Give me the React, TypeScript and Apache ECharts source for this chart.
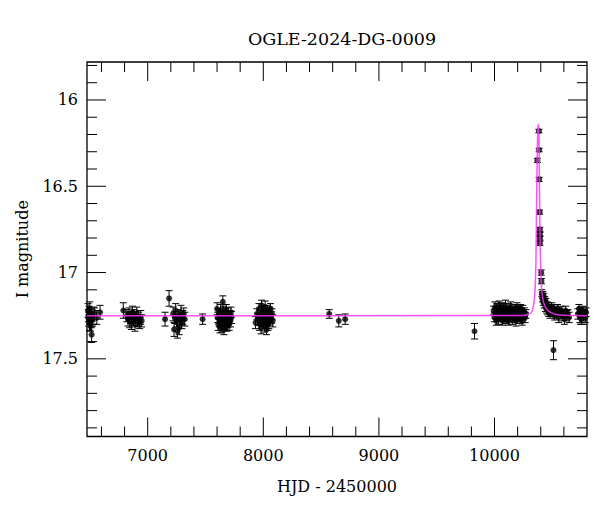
import React, { useEffect, useRef } from "react";
import * as echarts from "echarts";

const TITLE = "OGLE-2024-DG-0009";
const X_NAME = "HJD - 2450000";
const Y_NAME = "I magnitude";
const X_MIN = 6475;
const X_MAX = 10800;
const Y_MIN = 15.78;
const Y_MAX = 17.95;
const X_MAJOR = [7000, 8000, 9000, 10000];
const X_MINOR = [6600, 6800, 7200, 7400, 7600, 7800, 8200, 8400, 8600, 8800, 9200, 9400, 9600, 9800, 10200, 10400, 10600];
const Y_MAJOR = [16, 16.5, 17, 17.5];
const Y_MINOR = [15.8, 15.9, 16.1, 16.2, 16.3, 16.4, 16.6, 16.7, 16.8, 16.9, 17.1, 17.2, 17.3, 17.4, 17.6, 17.7, 17.8, 17.9];

// [HJD-2450000, I mag, error]
const season1 = [
  [6484, 17.22, 0.04], [6487, 17.25, 0.035], [6490, 17.27, 0.04], [6493, 17.23, 0.035], [6496, 17.29, 0.045],
  [6499, 17.21, 0.04], [6502, 17.26, 0.035], [6505, 17.3, 0.04], [6508, 17.24, 0.035], [6511, 17.28, 0.04],
  [6515, 17.36, 0.045], [6518, 17.25, 0.035], [6522, 17.27, 0.04], [6540, 17.24, 0.035], [6560, 17.26, 0.04],
  [6588, 17.23, 0.04],
];
const season2 = [
  [6789, 17.22, 0.045], [6820, 17.25, 0.035], [6830, 17.27, 0.04], [6838, 17.24, 0.035], [6845, 17.28, 0.04],
  [6852, 17.26, 0.035], [6860, 17.29, 0.04], [6868, 17.23, 0.035], [6875, 17.27, 0.04], [6882, 17.25, 0.035],
  [6890, 17.3, 0.04], [6898, 17.26, 0.035], [6905, 17.24, 0.04], [6912, 17.28, 0.035], [6920, 17.27, 0.04],
  [6930, 17.29, 0.035], [6940, 17.26, 0.04], [6948, 17.28, 0.035],
];
const season3 = [
  [7150, 17.27, 0.04], [7185, 17.15, 0.045], [7220, 17.24, 0.04], [7228, 17.33, 0.04], [7235, 17.26, 0.035],
  [7242, 17.22, 0.04], [7250, 17.28, 0.035], [7258, 17.34, 0.04], [7265, 17.25, 0.035], [7272, 17.32, 0.04],
  [7280, 17.27, 0.035], [7288, 17.23, 0.04], [7295, 17.29, 0.035], [7303, 17.26, 0.04], [7312, 17.24, 0.035],
  [7320, 17.27, 0.04], [7475, 17.27, 0.03],
];
const season4 = [
  [7600, 17.21, 0.035], [7605, 17.26, 0.03], [7610, 17.3, 0.035], [7615, 17.24, 0.03], [7620, 17.28, 0.035],
  [7625, 17.32, 0.03], [7630, 17.22, 0.035], [7635, 17.27, 0.03], [7640, 17.31, 0.035], [7645, 17.25, 0.03],
  [7650, 17.17, 0.035], [7652, 17.29, 0.03], [7656, 17.23, 0.035], [7660, 17.33, 0.03], [7664, 17.27, 0.035],
  [7668, 17.3, 0.03], [7672, 17.24, 0.035], [7676, 17.28, 0.03], [7680, 17.22, 0.035], [7684, 17.31, 0.03],
  [7688, 17.26, 0.035], [7692, 17.29, 0.03], [7696, 17.24, 0.035], [7700, 17.27, 0.03], [7705, 17.3, 0.035],
  [7710, 17.25, 0.03], [7715, 17.28, 0.035], [7720, 17.23, 0.03], [7725, 17.26, 0.035],
];
const season5 = [
  [7933, 17.29, 0.035], [7945, 17.24, 0.03], [7955, 17.27, 0.035], [7962, 17.21, 0.03], [7968, 17.3, 0.035],
  [7974, 17.25, 0.03], [7980, 17.32, 0.035], [7985, 17.19, 0.03], [7990, 17.27, 0.035], [7995, 17.23, 0.03],
  [8000, 17.29, 0.035], [8004, 17.22, 0.03], [8008, 17.31, 0.035], [8012, 17.26, 0.03], [8016, 17.2, 0.035],
  [8020, 17.28, 0.03], [8024, 17.24, 0.035], [8028, 17.33, 0.03], [8032, 17.27, 0.035], [8036, 17.22, 0.03],
  [8040, 17.3, 0.035], [8044, 17.25, 0.03], [8048, 17.29, 0.035], [8052, 17.23, 0.03], [8056, 17.27, 0.035],
  [8062, 17.21, 0.03], [8068, 17.26, 0.035], [8075, 17.24, 0.03], [8082, 17.28, 0.035],
];
const season6 = [
  [8570, 17.24, 0.025], [8653, 17.28, 0.035], [8708, 17.27, 0.03], [9827, 17.34, 0.045],
];
const season8 = [
  [9992, 17.22, 0.025], [9998, 17.26, 0.025], [10004, 17.2, 0.03], [10010, 17.24, 0.025], [10015, 17.28, 0.025],
  [10020, 17.21, 0.03], [10025, 17.25, 0.025], [10030, 17.23, 0.025], [10035, 17.27, 0.03], [10040, 17.19, 0.025],
  [10045, 17.24, 0.025], [10050, 17.22, 0.03], [10055, 17.26, 0.025], [10060, 17.2, 0.025], [10065, 17.25, 0.03],
  [10070, 17.28, 0.025], [10075, 17.23, 0.025], [10080, 17.21, 0.03], [10085, 17.26, 0.025], [10090, 17.24, 0.025],
  [10095, 17.19, 0.03], [10100, 17.27, 0.025], [10105, 17.22, 0.025], [10110, 17.25, 0.03], [10115, 17.23, 0.025],
  [10120, 17.28, 0.025], [10125, 17.21, 0.03], [10130, 17.24, 0.025], [10135, 17.26, 0.025], [10140, 17.2, 0.03],
  [10145, 17.25, 0.025], [10150, 17.23, 0.025], [10155, 17.27, 0.03], [10160, 17.22, 0.025], [10165, 17.24, 0.025],
  [10170, 17.26, 0.03], [10175, 17.21, 0.025], [10180, 17.25, 0.025], [10185, 17.28, 0.03], [10190, 17.23, 0.025],
  [10195, 17.2, 0.025], [10200, 17.24, 0.03], [10205, 17.26, 0.025], [10210, 17.22, 0.025], [10215, 17.25, 0.03],
  [10220, 17.27, 0.025], [10225, 17.21, 0.025], [10230, 17.24, 0.03], [10235, 17.23, 0.025], [10240, 17.28, 0.025],
  [10245, 17.22, 0.03], [10250, 17.25, 0.025], [10258, 17.23, 0.025], [10265, 17.26, 0.03], [10272, 17.24, 0.025],
];
const season9 = [
  [10371, 16.35, 0.012], [10384, 16.18, 0.01], [10386, 16.29, 0.01], [10386, 16.46, 0.012], [10390, 16.65, 0.012],
  [10392, 16.75, 0.012], [10392, 16.78, 0.012], [10393, 16.8, 0.012], [10393, 16.83, 0.012], [10404, 17.0, 0.015],
  [10406, 17.05, 0.015], [10410, 17.12, 0.02], [10414, 17.15, 0.02], [10418, 17.13, 0.02], [10422, 17.17, 0.02],
  [10426, 17.14, 0.02], [10430, 17.18, 0.025], [10435, 17.16, 0.02], [10440, 17.2, 0.025], [10445, 17.17, 0.02],
  [10450, 17.21, 0.025], [10455, 17.19, 0.02], [10460, 17.22, 0.025], [10465, 17.2, 0.025], [10470, 17.23, 0.025],
  [10475, 17.21, 0.025], [10480, 17.24, 0.025], [10488, 17.22, 0.025], [10495, 17.2, 0.025], [10505, 17.23, 0.025],
  [10510, 17.45, 0.055], [10515, 17.21, 0.025], [10520, 17.25, 0.025], [10528, 17.22, 0.025], [10535, 17.24, 0.025],
  [10545, 17.21, 0.025], [10555, 17.26, 0.03], [10565, 17.23, 0.025], [10575, 17.22, 0.025], [10585, 17.25, 0.03],
  [10595, 17.24, 0.025], [10605, 17.27, 0.03], [10615, 17.22, 0.025], [10625, 17.25, 0.03], [10635, 17.24, 0.025],
  [10645, 17.26, 0.03],
];
const season10 = [
  [10722, 17.24, 0.03], [10730, 17.21, 0.025], [10738, 17.26, 0.03], [10745, 17.23, 0.025], [10752, 17.27, 0.03],
  [10760, 17.22, 0.025], [10768, 17.25, 0.03], [10776, 17.24, 0.025], [10785, 17.26, 0.03], [10792, 17.23, 0.025],
];

const modelT = [6475, 10250, 10280, 10315, 10335, 10345, 10352, 10358, 10364, 10369, 10374, 10378, 10382, 10386,
  10390, 10395, 10401, 10408, 10420, 10440, 10470, 10520, 10600, 10800];
const modelMag = [17.25, 17.249, 17.245, 17.235, 17.2, 17.15, 17.08, 16.95, 16.6, 16.35, 16.18, 16.14, 16.16, 16.3,
  16.58, 16.85, 17.0, 17.1, 17.16, 17.2, 17.225, 17.24, 17.248, 17.25];

const FONT = "DejaVu Serif";

export default function App() {
  const ref = useRef<HTMLDivElement>(null);
  useEffect(() => {
    if (!ref.current) return;
    const chart = echarts.init(ref.current, null, { renderer: "svg" });
    const points = [...season1, ...season2, ...season3, ...season4, ...season5, ...season6, ...season8, ...season9, ...season10];
    const ticks: number[][] = [];
    X_MAJOR.forEach((v) => ticks.push([v, 0, 1]));
    X_MINOR.forEach((v) => ticks.push([v, 0, 0]));
    Y_MAJOR.forEach((v) => ticks.push([v, 1, 1]));
    Y_MINOR.forEach((v) => ticks.push([v, 1, 0]));

    chart.setOption({
      animation: false,
      backgroundColor: "#fff",
      title: {
        text: TITLE,
        left: 337,
        top: 25,
        textAlign: "center",
        textStyle: { fontFamily: FONT, fontSize: 17.5, fontWeight: "normal", color: "#000" },
      },
      grid: { left: 87, top: 62, width: 500, height: 374.5, show: true, borderColor: "#000", borderWidth: 1.3, backgroundColor: "transparent" },
      xAxis: {
        type: "value",
        min: X_MIN,
        max: X_MAX,
        name: X_NAME,
        nameLocation: "middle",
        nameGap: 42,
        nameTextStyle: { fontFamily: FONT, fontSize: 16, color: "#000" },
        axisLine: { show: false },
        axisTick: { show: false },
        splitLine: { show: false },
        axisLabel: {
          customValues: X_MAJOR,
          formatter: (v: number) => String(v),
          fontFamily: FONT,
          fontSize: 16,
          color: "#000",
          margin: 11,
        },
      },
      yAxis: {
        type: "value",
        inverse: true,
        min: Y_MIN,
        max: Y_MAX,
        name: Y_NAME,
        nameLocation: "middle",
        nameGap: 57,
        nameTextStyle: { fontFamily: FONT, fontSize: 16, color: "#000" },
        axisLine: { show: false },
        axisTick: { show: false },
        splitLine: { show: false },
        axisLabel: {
          customValues: Y_MAJOR,
          formatter: (v: number) => String(v),
          fontFamily: FONT,
          fontSize: 16,
          color: "#000",
          margin: 9,
        },
      },
      series: [
        {
          type: "custom",
          name: "ticks",
          silent: true,
          z: 1,
          data: ticks,
          encode: { x: 0, y: 0 },
          renderItem: (params: any, api: any) => {
            const cs = params.coordSys;
            const v = api.value(0);
            const isY = api.value(1);
            const len = api.value(2) ? 19 : 10;
            const st = { stroke: "#000", lineWidth: 1 };
            if (!isY) {
              const px = api.coord([v, Y_MIN])[0];
              return {
                type: "group",
                children: [
                  { type: "line", shape: { x1: px, y1: cs.y + cs.height, x2: px, y2: cs.y + cs.height - len }, style: st },
                  { type: "line", shape: { x1: px, y1: cs.y, x2: px, y2: cs.y + len }, style: st },
                ],
              };
            }
            const py = api.coord([X_MIN, v])[1];
            return {
              type: "group",
              children: [
                { type: "line", shape: { x1: cs.x, y1: py, x2: cs.x + len, y2: py }, style: st },
                { type: "line", shape: { x1: cs.x + cs.width, y1: py, x2: cs.x + cs.width - len, y2: py }, style: st },
              ],
            };
          },
        },
        {
          type: "custom",
          name: "errors",
          silent: true,
          z: 2,
          data: points,
          encode: { x: 0, y: 1 },
          renderItem: (params: any, api: any) => {
            const t = api.value(0);
            const m = api.value(1);
            const e = api.value(2);
            const a = api.coord([t, m - e]);
            const b = api.coord([t, m + e]);
            const w = 3.5;
            const st = { stroke: "#000", lineWidth: 1 };
            return {
              type: "group",
              children: [
                { type: "line", shape: { x1: a[0], y1: a[1], x2: b[0], y2: b[1] }, style: st },
                { type: "line", shape: { x1: a[0] - w, y1: a[1], x2: a[0] + w, y2: a[1] }, style: st },
                { type: "line", shape: { x1: b[0] - w, y1: b[1], x2: b[0] + w, y2: b[1] }, style: st },
              ],
            };
          },
        },
        {
          type: "scatter",
          name: "points",
          z: 3,
          symbol: "circle",
          symbolSize: 6,
          itemStyle: { color: "#000" },
          data: points.map((p) => [p[0], p[1]]),
        },
        {
          type: "line",
          name: "model",
          z: 4,
          symbol: "none",
          smooth: 0.2,
          lineStyle: { color: "#ff33ff", width: 1.5, opacity: 0.85 },
          data: modelT.map((t, i) => [t, modelMag[i]]),
        },
      ],
    });
    return () => chart.dispose();
  }, []);
  return <div ref={ref} style={{ width: 600, height: 512, position: "absolute", left: 0, top: 0 }} />;
}
